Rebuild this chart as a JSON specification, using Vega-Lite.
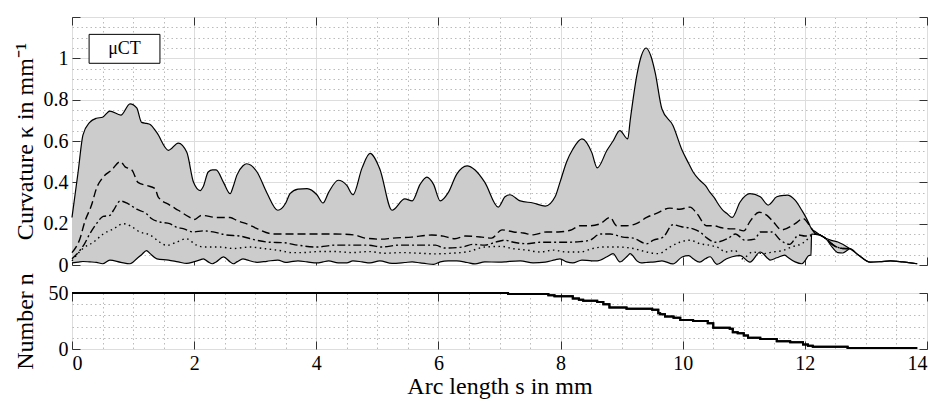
{
  "$schema": "https://vega.github.io/schema/vega-lite/v6.json",
  "padding": {"left": 12, "top": 15, "right": 4, "bottom": 4},
  "config": {
    "font": "Liberation Serif",
    "view": {"stroke": "#555555", "strokeWidth": 1},
    "axis": {"labelColor": "#000000", "titleColor": "#000000", "titleFontWeight": "normal", "domain": false}
  },
  "datasets": {
    "band": [
      {"s":0.00,"lo":0.010,"hi":0.23},{"s":0.10,"lo":0.014,"hi":0.45},{"s":0.18,"lo":0.017,"hi":0.63},{"s":0.29,"lo":0.015,"hi":0.69},
      {"s":0.40,"lo":0.013,"hi":0.71},{"s":0.50,"lo":0.006,"hi":0.715},{"s":0.62,"lo":0.024,"hi":0.745},{"s":0.80,"lo":0.013,"hi":0.725},
      {"s":0.95,"lo":0.006,"hi":0.78},{"s":1.06,"lo":0.030,"hi":0.76},{"s":1.14,"lo":0.050,"hi":0.69},{"s":1.22,"lo":0.070,"hi":0.685},
      {"s":1.28,"lo":0.055,"hi":0.68},{"s":1.39,"lo":0.030,"hi":0.64},{"s":1.58,"lo":0.024,"hi":0.555},{"s":1.74,"lo":0.015,"hi":0.59},
      {"s":1.88,"lo":0.008,"hi":0.545},{"s":1.99,"lo":0.015,"hi":0.40},{"s":2.10,"lo":0.025,"hi":0.36},{"s":2.15,"lo":0.030,"hi":0.38},
      {"s":2.23,"lo":0.015,"hi":0.45},{"s":2.30,"lo":0.006,"hi":0.46},{"s":2.36,"lo":0.015,"hi":0.46},{"s":2.48,"lo":0.039,"hi":0.40},
      {"s":2.59,"lo":0.015,"hi":0.345},{"s":2.64,"lo":0.006,"hi":0.38},{"s":2.70,"lo":0.015,"hi":0.435},{"s":2.80,"lo":0.030,"hi":0.48},
      {"s":2.86,"lo":0.025,"hi":0.49},{"s":3.03,"lo":0.013,"hi":0.45},{"s":3.19,"lo":0.018,"hi":0.35},{"s":3.37,"lo":0.024,"hi":0.265},
      {"s":3.50,"lo":0.013,"hi":0.30},{"s":3.57,"lo":0.015,"hi":0.345},{"s":3.70,"lo":0.020,"hi":0.367},{"s":3.85,"lo":0.015,"hi":0.37},
      {"s":4.01,"lo":0.010,"hi":0.34},{"s":4.11,"lo":0.015,"hi":0.30},{"s":4.20,"lo":0.020,"hi":0.35},{"s":4.36,"lo":0.010,"hi":0.41},
      {"s":4.50,"lo":0.010,"hi":0.385},{"s":4.60,"lo":0.020,"hi":0.34},{"s":4.75,"lo":0.015,"hi":0.47},{"s":4.88,"lo":0.010,"hi":0.54},
      {"s":5.04,"lo":0.020,"hi":0.465},{"s":5.24,"lo":0.008,"hi":0.265},{"s":5.45,"lo":0.012,"hi":0.32},{"s":5.57,"lo":0.015,"hi":0.31},
      {"s":5.70,"lo":0.010,"hi":0.39},{"s":5.81,"lo":0.006,"hi":0.425},{"s":5.92,"lo":0.003,"hi":0.39},{"s":6.03,"lo":0.015,"hi":0.31},
      {"s":6.16,"lo":0.020,"hi":0.35},{"s":6.30,"lo":0.020,"hi":0.44},{"s":6.47,"lo":0.012,"hi":0.48},{"s":6.60,"lo":0.005,"hi":0.46},
      {"s":6.76,"lo":0.015,"hi":0.40},{"s":6.98,"lo":0.014,"hi":0.28},{"s":7.09,"lo":0.015,"hi":0.33},{"s":7.17,"lo":0.018,"hi":0.34},
      {"s":7.34,"lo":0.020,"hi":0.31},{"s":7.55,"lo":0.010,"hi":0.30},{"s":7.75,"lo":0.014,"hi":0.285},{"s":7.91,"lo":0.025,"hi":0.33},
      {"s":7.99,"lo":0.030,"hi":0.40},{"s":8.10,"lo":0.015,"hi":0.50},{"s":8.20,"lo":0.010,"hi":0.56},{"s":8.35,"lo":0.024,"hi":0.61},
      {"s":8.51,"lo":0.020,"hi":0.545},{"s":8.60,"lo":0.020,"hi":0.47},{"s":8.76,"lo":0.040,"hi":0.555},{"s":8.86,"lo":0.055,"hi":0.60},
      {"s":8.97,"lo":0.015,"hi":0.65},{"s":9.10,"lo":0.045,"hi":0.61},{"s":9.14,"lo":0.055,"hi":0.70},{"s":9.25,"lo":0.020,"hi":0.92},
      {"s":9.32,"lo":0.010,"hi":1.01},{"s":9.40,"lo":0.012,"hi":1.05},{"s":9.48,"lo":0.014,"hi":1.01},{"s":9.55,"lo":0.015,"hi":0.93},
      {"s":9.66,"lo":0.020,"hi":0.755},{"s":9.84,"lo":0.005,"hi":0.675},{"s":9.99,"lo":0.039,"hi":0.555},{"s":10.10,"lo":0.045,"hi":0.49},
      {"s":10.17,"lo":0.030,"hi":0.45},{"s":10.28,"lo":0.014,"hi":0.41},{"s":10.37,"lo":0.030,"hi":0.385},{"s":10.45,"lo":0.040,"hi":0.35},
      {"s":10.53,"lo":0.010,"hi":0.32},{"s":10.56,"lo":0.003,"hi":0.305},{"s":10.69,"lo":0.025,"hi":0.256},{"s":10.72,"lo":0.030,"hi":0.25},
      {"s":10.81,"lo":0.040,"hi":0.23},{"s":10.94,"lo":0.045,"hi":0.305},{"s":11.10,"lo":0.014,"hi":0.345},{"s":11.27,"lo":0.063,"hi":0.33},
      {"s":11.40,"lo":0.030,"hi":0.29},{"s":11.43,"lo":0.024,"hi":0.295},{"s":11.54,"lo":0.035,"hi":0.33},{"s":11.67,"lo":0.048,"hi":0.337},
      {"s":11.71,"lo":0.040,"hi":0.338},{"s":11.84,"lo":0.015,"hi":0.314},{"s":11.95,"lo":0.006,"hi":0.265},{"s":12.00,"lo":0.020,"hi":0.24},
      {"s":12.06,"lo":0.045,"hi":0.205},{"s":12.10,"lo":0.048,"hi":0.18},{"s":12.11,"lo":0.150,"hi":0.175},{"s":12.18,"lo":0.148,"hi":0.16},
      {"s":12.25,"lo":0.145,"hi":0.145},{"s":12.35,"lo":0.125,"hi":0.128},{"s":12.45,"lo":0.085,"hi":0.118},{"s":12.54,"lo":0.060,"hi":0.111},
      {"s":12.62,"lo":0.058,"hi":0.100},{"s":12.68,"lo":0.068,"hi":0.090},{"s":12.74,"lo":0.079,"hi":0.079},{"s":12.87,"lo":0.050,"hi":0.050},
      {"s":13.07,"lo":0.014,"hi":0.014},{"s":13.23,"lo":0.016,"hi":0.016},{"s":13.40,"lo":0.020,"hi":0.020},{"s":13.60,"lo":0.015,"hi":0.015},
      {"s":13.84,"lo":0.006,"hi":0.006}
    ],
    "stats": [
      {"stat":"mean+sd","s":0.00,"k":0.06},{"stat":"mean+sd","s":0.13,"k":0.127},{"stat":"mean+sd","s":0.21,"k":0.21},{"stat":"mean+sd","s":0.32,"k":0.29},
      {"stat":"mean+sd","s":0.40,"k":0.37},{"stat":"mean+sd","s":0.51,"k":0.425},{"stat":"mean+sd","s":0.65,"k":0.46},{"stat":"mean+sd","s":0.79,"k":0.50},
      {"stat":"mean+sd","s":0.87,"k":0.475},{"stat":"mean+sd","s":0.98,"k":0.46},{"stat":"mean+sd","s":1.08,"k":0.40},{"stat":"mean+sd","s":1.22,"k":0.385},
      {"stat":"mean+sd","s":1.36,"k":0.37},{"stat":"mean+sd","s":1.41,"k":0.33},{"stat":"mean+sd","s":1.60,"k":0.29},{"stat":"mean+sd","s":1.74,"k":0.265},
      {"stat":"mean+sd","s":1.93,"k":0.23},{"stat":"mean+sd","s":2.00,"k":0.22},{"stat":"mean+sd","s":2.12,"k":0.24},{"stat":"mean+sd","s":2.37,"k":0.23},
      {"stat":"mean+sd","s":2.59,"k":0.23},{"stat":"mean+sd","s":2.70,"k":0.215},{"stat":"mean+sd","s":2.91,"k":0.193},{"stat":"mean+sd","s":3.00,"k":0.18},
      {"stat":"mean+sd","s":3.30,"k":0.15},{"stat":"mean+sd","s":3.46,"k":0.15},{"stat":"mean+sd","s":3.65,"k":0.15},{"stat":"mean+sd","s":4.00,"k":0.15},
      {"stat":"mean+sd","s":4.31,"k":0.15},{"stat":"mean+sd","s":4.63,"k":0.145},{"stat":"mean+sd","s":4.80,"k":0.13},{"stat":"mean+sd","s":5.07,"k":0.125},
      {"stat":"mean+sd","s":5.25,"k":0.13},{"stat":"mean+sd","s":5.56,"k":0.135},{"stat":"mean+sd","s":5.89,"k":0.145},{"stat":"mean+sd","s":6.08,"k":0.14},
      {"stat":"mean+sd","s":6.27,"k":0.127},{"stat":"mean+sd","s":6.44,"k":0.14},{"stat":"mean+sd","s":6.71,"k":0.135},{"stat":"mean+sd","s":6.87,"k":0.13},
      {"stat":"mean+sd","s":7.04,"k":0.17},{"stat":"mean+sd","s":7.23,"k":0.16},{"stat":"mean+sd","s":7.39,"k":0.155},{"stat":"mean+sd","s":7.55,"k":0.146},
      {"stat":"mean+sd","s":7.77,"k":0.16},{"stat":"mean+sd","s":7.96,"k":0.16},{"stat":"mean+sd","s":8.16,"k":0.168},{"stat":"mean+sd","s":8.32,"k":0.19},
      {"stat":"mean+sd","s":8.48,"k":0.19},{"stat":"mean+sd","s":8.65,"k":0.20},{"stat":"mean+sd","s":8.81,"k":0.23},{"stat":"mean+sd","s":8.92,"k":0.19},
      {"stat":"mean+sd","s":9.08,"k":0.19},{"stat":"mean+sd","s":9.24,"k":0.20},{"stat":"mean+sd","s":9.41,"k":0.23},{"stat":"mean+sd","s":9.57,"k":0.25},
      {"stat":"mean+sd","s":9.79,"k":0.275},{"stat":"mean+sd","s":9.95,"k":0.27},{"stat":"mean+sd","s":10.12,"k":0.28},{"stat":"mean+sd","s":10.23,"k":0.25},
      {"stat":"mean+sd","s":10.39,"k":0.19},{"stat":"mean+sd","s":10.50,"k":0.19},{"stat":"mean+sd","s":10.64,"k":0.18},{"stat":"mean+sd","s":10.78,"k":0.175},
      {"stat":"mean+sd","s":10.86,"k":0.175},{"stat":"mean+sd","s":11.00,"k":0.165},{"stat":"mean+sd","s":11.10,"k":0.21},{"stat":"mean+sd","s":11.25,"k":0.255},
      {"stat":"mean+sd","s":11.38,"k":0.24},{"stat":"mean+sd","s":11.48,"k":0.21},{"stat":"mean+sd","s":11.62,"k":0.17},{"stat":"mean+sd","s":11.84,"k":0.20},
      {"stat":"mean+sd","s":11.97,"k":0.225},{"stat":"mean+sd","s":12.08,"k":0.19},{"stat":"mean+sd","s":12.18,"k":0.15},{"stat":"mean+sd","s":12.25,"k":0.145},
      {"stat":"mean+sd","s":12.35,"k":0.127},{"stat":"mean+sd","s":12.45,"k":0.10},{"stat":"mean+sd","s":12.54,"k":0.085},{"stat":"mean+sd","s":12.62,"k":0.08},
      {"stat":"mean+sd","s":12.74,"k":0.079},

      {"stat":"mean","s":0.00,"k":0.03},{"stat":"mean","s":0.10,"k":0.06},{"stat":"mean","s":0.20,"k":0.10},{"stat":"mean","s":0.29,"k":0.15},
      {"stat":"mean","s":0.40,"k":0.20},{"stat":"mean","s":0.51,"k":0.235},{"stat":"mean","s":0.62,"k":0.24},{"stat":"mean","s":0.68,"k":0.265},
      {"stat":"mean","s":0.79,"k":0.31},{"stat":"mean","s":0.92,"k":0.296},{"stat":"mean","s":1.06,"k":0.27},{"stat":"mean","s":1.22,"k":0.248},
      {"stat":"mean","s":1.30,"k":0.225},{"stat":"mean","s":1.44,"k":0.208},{"stat":"mean","s":1.60,"k":0.20},{"stat":"mean","s":1.71,"k":0.183},
      {"stat":"mean","s":1.82,"k":0.176},{"stat":"mean","s":1.98,"k":0.16},{"stat":"mean","s":2.15,"k":0.165},{"stat":"mean","s":2.31,"k":0.16},
      {"stat":"mean","s":2.53,"k":0.145},{"stat":"mean","s":2.75,"k":0.14},{"stat":"mean","s":3.02,"k":0.12},{"stat":"mean","s":3.24,"k":0.11},
      {"stat":"mean","s":3.46,"k":0.108},{"stat":"mean","s":3.70,"k":0.096},{"stat":"mean","s":4.00,"k":0.087},{"stat":"mean","s":4.31,"k":0.096},
      {"stat":"mean","s":4.58,"k":0.096},{"stat":"mean","s":4.85,"k":0.096},{"stat":"mean","s":5.07,"k":0.087},{"stat":"mean","s":5.35,"k":0.096},
      {"stat":"mean","s":5.67,"k":0.096},{"stat":"mean","s":5.95,"k":0.096},{"stat":"mean","s":6.10,"k":0.082},{"stat":"mean","s":6.40,"k":0.087},
      {"stat":"mean","s":6.56,"k":0.10},{"stat":"mean","s":6.76,"k":0.096},{"stat":"mean","s":6.93,"k":0.11},{"stat":"mean","s":7.09,"k":0.12},
      {"stat":"mean","s":7.23,"k":0.11},{"stat":"mean","s":7.45,"k":0.103},{"stat":"mean","s":7.66,"k":0.11},{"stat":"mean","s":7.88,"k":0.11},
      {"stat":"mean","s":8.10,"k":0.11},{"stat":"mean","s":8.32,"k":0.113},{"stat":"mean","s":8.48,"k":0.12},{"stat":"mean","s":8.65,"k":0.15},
      {"stat":"mean","s":8.81,"k":0.15},{"stat":"mean","s":9.02,"k":0.135},{"stat":"mean","s":9.19,"k":0.13},{"stat":"mean","s":9.41,"k":0.103},
      {"stat":"mean","s":9.52,"k":0.12},{"stat":"mean","s":9.68,"k":0.135},{"stat":"mean","s":9.84,"k":0.195},{"stat":"mean","s":9.98,"k":0.185},
      {"stat":"mean","s":10.17,"k":0.175},{"stat":"mean","s":10.28,"k":0.16},{"stat":"mean","s":10.40,"k":0.13},{"stat":"mean","s":10.53,"k":0.11},
      {"stat":"mean","s":10.75,"k":0.13},{"stat":"mean","s":10.86,"k":0.15},{"stat":"mean","s":11.02,"k":0.12},{"stat":"mean","s":11.18,"k":0.125},
      {"stat":"mean","s":11.27,"k":0.16},{"stat":"mean","s":11.46,"k":0.16},{"stat":"mean","s":11.60,"k":0.12},{"stat":"mean","s":11.75,"k":0.10},
      {"stat":"mean","s":11.90,"k":0.145},{"stat":"mean","s":12.00,"k":0.14},{"stat":"mean","s":12.10,"k":0.145},{"stat":"mean","s":12.18,"k":0.15},
      {"stat":"mean","s":12.25,"k":0.145},{"stat":"mean","s":12.35,"k":0.127},{"stat":"mean","s":12.45,"k":0.10},{"stat":"mean","s":12.54,"k":0.085},
      {"stat":"mean","s":12.62,"k":0.08},{"stat":"mean","s":12.74,"k":0.079},

      {"stat":"median","s":0.00,"k":0.02},{"stat":"median","s":0.18,"k":0.08},{"stat":"median","s":0.35,"k":0.11},{"stat":"median","s":0.51,"k":0.15},
      {"stat":"median","s":0.68,"k":0.175},{"stat":"median","s":0.84,"k":0.20},{"stat":"median","s":0.95,"k":0.19},{"stat":"median","s":1.11,"k":0.16},
      {"stat":"median","s":1.28,"k":0.145},{"stat":"median","s":1.44,"k":0.11},{"stat":"median","s":1.55,"k":0.095},{"stat":"median","s":1.71,"k":0.11},
      {"stat":"median","s":1.87,"k":0.127},{"stat":"median","s":2.04,"k":0.096},{"stat":"median","s":2.15,"k":0.087},{"stat":"median","s":2.42,"k":0.087},
      {"stat":"median","s":2.64,"k":0.08},{"stat":"median","s":2.91,"k":0.087},{"stat":"median","s":3.13,"k":0.08},{"stat":"median","s":3.40,"k":0.07},
      {"stat":"median","s":3.60,"k":0.06},{"stat":"median","s":3.76,"k":0.06},{"stat":"median","s":4.04,"k":0.065},{"stat":"median","s":4.31,"k":0.065},
      {"stat":"median","s":4.58,"k":0.06},{"stat":"median","s":4.85,"k":0.065},{"stat":"median","s":5.13,"k":0.057},{"stat":"median","s":5.40,"k":0.06},
      {"stat":"median","s":5.67,"k":0.057},{"stat":"median","s":5.95,"k":0.054},{"stat":"median","s":6.22,"k":0.057},{"stat":"median","s":6.49,"k":0.065},
      {"stat":"median","s":6.76,"k":0.087},{"stat":"median","s":7.04,"k":0.09},{"stat":"median","s":7.20,"k":0.08},{"stat":"median","s":7.45,"k":0.072},
      {"stat":"median","s":7.66,"k":0.063},{"stat":"median","s":7.88,"k":0.072},{"stat":"median","s":8.10,"k":0.063},{"stat":"median","s":8.32,"k":0.063},
      {"stat":"median","s":8.53,"k":0.08},{"stat":"median","s":8.70,"k":0.087},{"stat":"median","s":8.92,"k":0.087},{"stat":"median","s":9.19,"k":0.08},
      {"stat":"median","s":9.41,"k":0.063},{"stat":"median","s":9.60,"k":0.055},{"stat":"median","s":9.79,"k":0.087},{"stat":"median","s":9.95,"k":0.11},
      {"stat":"median","s":10.12,"k":0.12},{"stat":"median","s":10.28,"k":0.103},{"stat":"median","s":10.45,"k":0.095},{"stat":"median","s":10.61,"k":0.08},
      {"stat":"median","s":10.69,"k":0.063},{"stat":"median","s":10.86,"k":0.07},{"stat":"median","s":10.97,"k":0.03},{"stat":"median","s":11.15,"k":0.063},
      {"stat":"median","s":11.32,"k":0.055},{"stat":"median","s":11.48,"k":0.063},{"stat":"median","s":11.64,"k":0.07},{"stat":"median","s":11.78,"k":0.087},
      {"stat":"median","s":11.95,"k":0.103},{"stat":"median","s":12.11,"k":0.14},{"stat":"median","s":12.18,"k":0.15},{"stat":"median","s":12.25,"k":0.145},
      {"stat":"median","s":12.35,"k":0.127},{"stat":"median","s":12.45,"k":0.10},{"stat":"median","s":12.54,"k":0.085},{"stat":"median","s":12.62,"k":0.08},
      {"stat":"median","s":12.74,"k":0.079}
    ],
    "count": [
      {"s":0,"n":50},{"s":7.14,"n":49},{"s":7.8,"n":48},{"s":7.9,"n":47},{"s":8.2,"n":45},{"s":8.3,"n":44},{"s":8.37,"n":43},
      {"s":8.6,"n":42},{"s":8.7,"n":40},{"s":8.8,"n":37},{"s":9.08,"n":36},{"s":9.5,"n":35},{"s":9.6,"n":32},{"s":9.63,"n":31},
      {"s":9.71,"n":29},{"s":9.85,"n":28},{"s":9.96,"n":26},{"s":10.17,"n":25},{"s":10.41,"n":23},{"s":10.5,"n":19},{"s":10.77,"n":18},
      {"s":10.82,"n":15},{"s":10.9,"n":14},{"s":11.0,"n":12},{"s":11.07,"n":10},{"s":11.27,"n":9},{"s":11.54,"n":7},{"s":11.76,"n":6},
      {"s":11.97,"n":4},{"s":12.05,"n":3},{"s":12.13,"n":2},{"s":12.7,"n":1},{"s":13.84,"n":1}
    ],
    "legendbox": [{"label": "μCT"}]
  },
  "spacing": 28,
  "bounds": "flush",
  "vconcat": [
    {
      "width": 855,
      "height": 248,
      "layer": [
        {
          "data": {"name": "band"},
          "mark": {"type": "area", "interpolate": "monotone", "color": "#cccccc"},
          "encoding": {
            "x": {"field": "s", "type": "quantitative", "scale": {"domain": [0, 14], "nice": false},
              "axis": {"orient": "bottom", "title": null, "labels": false, "minExtent": 0, "maxExtent": 0,
                "values": [0,0.5,1,1.5,2,2.5,3,3.5,4,4.5,5,5.5,6,6.5,7,7.5,8,8.5,9,9.5,10,10.5,11,11.5,12,12.5,13,13.5,14],
                "tickSize": -8, "tickColor": "#333333",
                "tickOpacity": {"condition": {"test": "datum.value % 2 == 0", "value": 1}, "value": 0},
                "gridDash": {"condition": {"test": "datum.value % 2 == 0", "value": []}, "value": [1.5, 3]},
                "gridColor": {"condition": {"test": "datum.value % 2 == 0", "value": "#dddddd"}, "value": "#bbbbbb"}}},
            "y": {"field": "hi", "type": "quantitative", "scale": {"domain": [0, 1.2], "nice": false},
              "axis": {"orient": "left", "title": "Curvature κ in mm⁻¹", "titleFontSize": 24, "titlePadding": 1,
                "values": [0,0.05,0.1,0.15,0.2,0.25,0.3,0.35,0.4,0.45,0.5,0.55,0.6,0.65,0.7,0.75,0.8,0.85,0.9,0.95,1,1.05,1.1,1.15,1.2],
                "labelExpr": "abs(datum.value*5-round(datum.value*5))<0.001 && datum.value < 1.1 ? format(datum.value, '~g') : ''",
                "labelFontSize": {"condition": {"test": "abs(datum.value*5-round(datum.value*5))<0.001 && datum.value < 1.1", "value": 20}, "value": 1},
                "labelPadding": 12, "labelOverlap": false, "minExtent": 34, "maxExtent": 34,
                "tickSize": -8, "tickColor": "#333333",
                "tickOpacity": {"condition": {"test": "abs(datum.value*5-round(datum.value*5))<0.001", "value": 1}, "value": 0},
                "gridDash": {"condition": {"test": "abs(datum.value*5-round(datum.value*5))<0.001", "value": []}, "value": [1.5, 3]},
                "gridColor": {"condition": {"test": "abs(datum.value*5-round(datum.value*5))<0.001", "value": "#dddddd"}, "value": "#bbbbbb"}}},
            "y2": {"field": "lo"}
          }
        },
        {
          "data": {"name": "band"},
          "mark": {"type": "line", "interpolate": "monotone", "color": "#000000", "strokeWidth": 1.2},
          "encoding": {
            "x": {"field": "s", "type": "quantitative",
              "axis": {"orient": "top", "title": null, "labels": false, "grid": false, "minExtent": 0, "maxExtent": 0, "values": [0,2,4,6,8,10,12,14], "tickSize": -8, "tickColor": "#333333"}},
            "y": {"field": "hi", "type": "quantitative",
              "axis": {"orient": "right", "title": null, "labels": false, "grid": false, "minExtent": 0, "maxExtent": 0, "values": [0,0.2,0.4,0.6,0.8,1,1.2], "tickSize": -8, "tickColor": "#333333"}}
          }
        },
        {
          "data": {"name": "band"},
          "mark": {"type": "line", "interpolate": "monotone", "color": "#000000", "strokeWidth": 1.2},
          "encoding": {
            "x": {"field": "s", "type": "quantitative", "axis": null},
            "y": {"field": "lo", "type": "quantitative", "axis": null}
          }
        },
        {
          "data": {"name": "stats"},
          "mark": {"type": "line", "interpolate": "monotone", "color": "#000000", "strokeWidth": 1.4},
          "encoding": {
            "x": {"field": "s", "type": "quantitative", "axis": null},
            "y": {"field": "k", "type": "quantitative", "axis": null},
            "strokeDash": {"field": "stat", "type": "nominal", "legend": null,
              "scale": {"domain": ["mean+sd", "mean", "median"], "range": [[8, 4], [8, 3, 2, 3], [1.5, 3.5]]}}
          }
        },
        {
          "data": {"name": "legendbox"},
          "mark": {"type": "rect", "fill": "#ffffff", "stroke": "#000000", "strokeWidth": 1},
          "encoding": {
            "x": {"datum": 0.28, "type": "quantitative", "axis": null},
            "x2": {"datum": 1.44},
            "y": {"datum": 1.116, "type": "quantitative", "axis": null},
            "y2": {"datum": 0.976}
          }
        },
        {
          "data": {"name": "legendbox"},
          "mark": {"type": "text", "fontSize": 18, "color": "#000000", "align": "center", "baseline": "middle"},
          "encoding": {
            "x": {"datum": 0.86, "type": "quantitative", "axis": null},
            "y": {"datum": 1.046, "type": "quantitative", "axis": null},
            "text": {"field": "label"}
          }
        }
      ],
      "resolve": {"axis": {"x": "independent", "y": "independent"}}
    },
    {
      "width": 855,
      "height": 56,
      "layer": [
        {
          "data": {"name": "count"},
          "mark": {"type": "line", "interpolate": "step-after", "color": "#000000", "strokeWidth": 2},
          "encoding": {
            "x": {"field": "s", "type": "quantitative", "scale": {"domain": [0, 14], "nice": false},
              "axis": {"orient": "bottom", "title": "Arc length s in mm", "titleFontSize": 24, "titlePadding": 1,
                "values": [0,0.5,1,1.5,2,2.5,3,3.5,4,4.5,5,5.5,6,6.5,7,7.5,8,8.5,9,9.5,10,10.5,11,11.5,12,12.5,13,13.5,14],
                "labelExpr": "datum.value % 2 == 0 ? format(datum.value, '~g') : ''", "labelOverlap": false,
                "labelFontSize": {"condition": {"test": "datum.value % 2 == 0", "value": 20}, "value": 1},
                "labelPadding": 12,
                "tickSize": -8, "tickColor": "#333333",
                "tickOpacity": {"condition": {"test": "datum.value % 2 == 0", "value": 1}, "value": 0},
                "gridDash": {"condition": {"test": "datum.value % 2 == 0", "value": []}, "value": [1.5, 3]},
                "gridColor": {"condition": {"test": "datum.value % 2 == 0", "value": "#dddddd"}, "value": "#bbbbbb"}}},
            "y": {"field": "n", "type": "quantitative", "scale": {"domain": [0, 50], "nice": false},
              "axis": {"orient": "left", "title": "Number n", "titleFontSize": 24, "titlePadding": 1,
                "values": [0,10,20,30,40,50],
                "labelExpr": "datum.value % 50 == 0 ? format(datum.value, '~g') : ''", "labelOverlap": false,
                "labelFontSize": {"condition": {"test": "datum.value % 50 == 0", "value": 20}, "value": 1},
                "labelPadding": 12, "minExtent": 34, "maxExtent": 34,
                "tickSize": -8, "tickColor": "#333333",
                "tickOpacity": {"condition": {"test": "datum.value % 50 == 0", "value": 1}, "value": 0},
                "gridDash": {"condition": {"test": "datum.value % 50 == 0", "value": []}, "value": [1.5, 3]},
                "gridColor": {"condition": {"test": "datum.value % 50 == 0", "value": "#dddddd"}, "value": "#bbbbbb"}}}
          }
        },
        {
          "data": {"name": "count"},
          "mark": {"type": "line", "interpolate": "step-after", "color": "#000000", "strokeWidth": 2},
          "encoding": {
            "x": {"field": "s", "type": "quantitative",
              "axis": {"orient": "top", "title": null, "labels": false, "grid": false, "minExtent": 0, "maxExtent": 0, "values": [0,2,4,6,8,10,12,14], "tickSize": -8, "tickColor": "#333333"}},
            "y": {"field": "n", "type": "quantitative",
              "axis": {"orient": "right", "title": null, "labels": false, "grid": false, "minExtent": 0, "maxExtent": 0, "values": [0,50], "tickSize": -8, "tickColor": "#333333"}}
          }
        }
      ],
      "resolve": {"axis": {"x": "independent", "y": "independent"}}
    }
  ]
}
